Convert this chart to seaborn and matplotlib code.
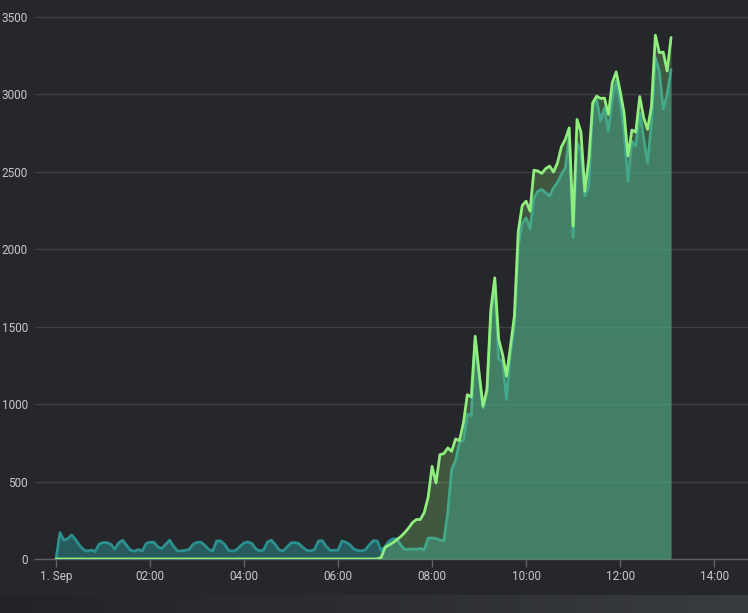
import numpy as np
import pandas as pd
import seaborn as sns
import matplotlib.pyplot as plt
from matplotlib.colors import LinearSegmentedColormap

# 5-minute samples, 1 Sep 00:00 -> 13:05
times = pd.date_range('2024-09-01 00:00', periods=158, freq='5min')

teal_vals = [
    0, 170, 121, 132, 155, 125, 88, 61, 50, 58,
    48, 95, 106, 106, 95, 63, 104, 121, 88, 56,
    50, 61, 50, 99, 108, 108, 78, 67, 95, 121,
    82, 52, 52, 56, 61, 95, 108, 108, 88, 61,
    52, 116, 116, 95, 56, 50, 58, 82, 104, 110,
    100, 65, 52, 58, 110, 121, 92, 58, 52, 78,
    104, 106, 100, 75, 56, 52, 62, 116, 118, 80,
    56, 56, 58, 116, 108, 92, 65, 55, 52, 60,
    92, 118, 116, 55, 80, 115, 130, 130, 90, 62,
    62, 64, 62, 68, 60, 135, 135, 133, 122, 117,
    300, 580, 635, 755, 765, 935, 925, 1410, 1180, 975,
    1072, 1567, 1783, 1290, 1276, 1029, 1330, 1502, 2019, 2166,
    2202, 2131, 2331, 2374, 2385, 2364, 2342, 2396, 2430, 2482,
    2525, 2730, 2073, 2686, 2632, 2342, 2407, 2924, 2966, 2827,
    2912, 2762, 2966, 3085, 2955, 2756, 2439, 2697, 2665, 2880,
    2719, 2557, 2815, 3235, 3150, 2902, 2998, 3159,
]

green_vals = [0] * 83 + [
    10, 75, 90, 105, 125, 145, 170,
    200, 235, 255, 255, 300, 400, 598, 491, 674, 680,
    717, 695, 775, 764, 879, 1061, 1046, 1438, 1201, 986,
    1094, 1610, 1815, 1417, 1319, 1180, 1373, 1567, 2116, 2281,
    2310, 2245, 2510, 2504, 2489, 2520, 2536, 2498, 2557, 2660,
    2708, 2783, 2148, 2837, 2756, 2374, 2580, 2945, 2988, 2973,
    2975, 2870, 3075, 3144, 3021, 2881, 2601, 2769, 2756, 2985,
    2849, 2773, 2924, 3381, 3268, 3272, 3150, 3366,
]

tick_hours = [0, 2, 4, 6, 8, 10, 12, 14]
tick_labels = ['1. Sep', '02:00', '04:00', '06:00', '08:00', '10:00', '12:00', '14:00']
y_ticks = [0, 500, 1000, 1500, 2000, 2500, 3000, 3500]

df = pd.DataFrame({'time': times, 'teal': teal_vals, 'green': green_vals})

sns.set_theme(style='dark')
plt.rcParams['font.family'] = ['Roboto', 'DejaVu Sans']

bg = '#26272b'
teal = '#2b908f'
green = '#90ee7e'
txt = '#c8c8c8'

fig = plt.figure(figsize=(7.48, 6.13), dpi=100, facecolor=bg)
ax = fig.add_axes([35 / 748, 54 / 613, 713 / 748, 543 / 613])
ax.set_facecolor(bg)

ax.fill_between(df['time'], 0, df['teal'], color=teal, alpha=0.5, lw=0, zorder=2)
sns.lineplot(data=df, x='time', y='teal', color=teal, lw=2, ax=ax, zorder=3,
             solid_joinstyle='round', solid_capstyle='round')
ax.fill_between(df['time'], 0, df['green'], color=green, alpha=0.25, lw=0, zorder=4)
sns.lineplot(data=df, x='time', y='green', color=green, lw=2, ax=ax, zorder=5,
             solid_joinstyle='round', solid_capstyle='round')

start = times[0]
ax.set_xlim(start - pd.Timedelta(hours=0.447), start + pd.Timedelta(hours=14.72))
ax.set_ylim(0, 3505)
ax.set_xticks([start + pd.Timedelta(hours=h) for h in tick_hours])
ax.set_xticklabels(tick_labels)
ax.set_yticks(y_ticks)
ax.set_yticklabels([str(v) for v in y_ticks])
ax.set_xlabel('')
ax.set_ylabel('')

ax.yaxis.grid(True, color='#3f4044', lw=1, zorder=1)
ax.xaxis.grid(False)
for s in ['top', 'right', 'left']:
    ax.spines[s].set_visible(False)
ax.spines['bottom'].set_color('#606166')
ax.spines['bottom'].set_linewidth(1)
ax.spines['bottom'].set_zorder(1)

ax.tick_params(axis='x', length=6, width=1, color='#606166', labelcolor=txt,
               labelsize=8.5, pad=2, bottom=True)
ax.tick_params(axis='y', length=0, labelcolor=txt, labelsize=8.5, pad=5)

# page strip under the chart
band = fig.add_axes([0, 0, 1, 18 / 613])
cmap = LinearSegmentedColormap.from_list('band', ['#222326', '#2c2e32', '#383b40'])
band.imshow(np.linspace(0, 1, 256).reshape(1, -1), aspect='auto', cmap=cmap)
band.axis('off')

fig.savefig('out.png', dpi=100, facecolor=bg)
